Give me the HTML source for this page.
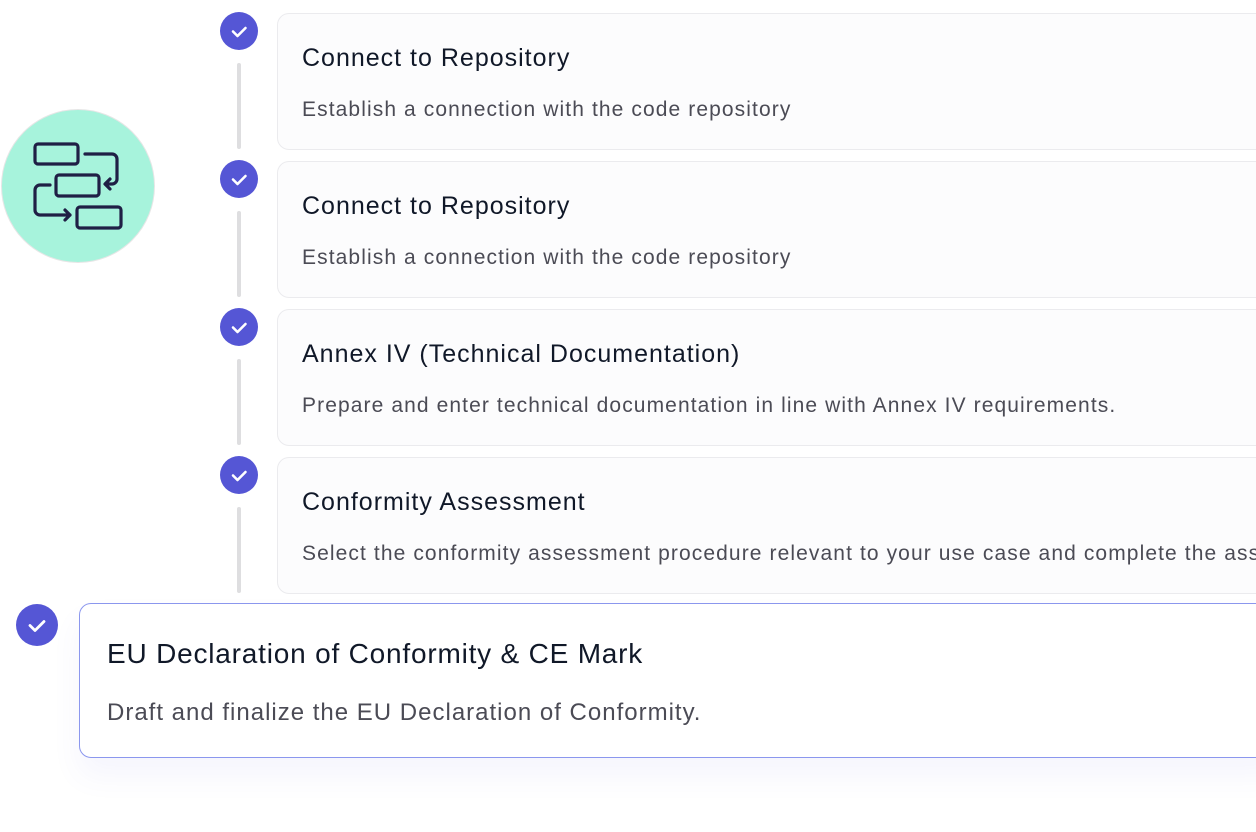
<!DOCTYPE html>
<html><head><style>
html,body{margin:0;width:1256px;height:832px;overflow:hidden;background:#fff}
#wrap{position:relative;width:1256px;height:832px;overflow:hidden;font-family:"Liberation Sans",sans-serif}
.card{position:absolute;left:277px;width:1000px;height:135px;border:1.5px solid #ebebee;border-radius:12px;background:#fcfcfd;overflow:hidden}
.card h3{position:absolute;left:24px;top:30px;margin:0;font-size:25px;letter-spacing:1px;font-weight:normal;color:#101828;white-space:nowrap}
.card p{position:absolute;left:24px;top:84px;margin:0;font-size:21px;letter-spacing:1.1px;color:#4b4b55;white-space:nowrap}
.dot{position:absolute;width:38px;height:38px;border-radius:50%;background:#5556d5}
.dot svg{position:absolute;left:0;top:0}
.line{position:absolute;left:237px;width:4px;background:#dedee0;border-radius:2px}
</style></head><body><div id="wrap">
<div style="position:absolute;left:1px;top:109px;width:152px;height:152px;border-radius:50%;background:#a7f3dc;border:1.5px solid #e6e6e6"></div>
<svg style="position:absolute;left:0;top:108px" width="160" height="160" fill="none" stroke="#1f1f45" stroke-width="3.2" stroke-linecap="round" stroke-linejoin="round">
<rect x="35" y="36" width="43" height="20" rx="3"/>
<rect x="56" y="67" width="43" height="21" rx="3"/>
<rect x="77" y="99" width="44" height="21" rx="3"/>
<path d="M85 46h27a5 5 0 0 1 5 5v20a5 5 0 0 1-5 5h-6M110 71l-5 5 5 5"/>
<path d="M50 77h-10a5 5 0 0 0-5 5v20a5 5 0 0 0 5 5h30M65 102l5 5-5 5"/>
</svg>
<div class="line" style="top:63px;height:86px"></div>
<div class="line" style="top:211px;height:86px"></div>
<div class="line" style="top:359px;height:86px"></div>
<div class="line" style="top:507px;height:86px"></div>
<div class="dot" style="left:220px;top:12px"><svg width="38" height="38"><path d="M13 19.5l4.5 4.5 8-8" stroke="#fff" stroke-width="2.6" fill="none" stroke-linecap="round" stroke-linejoin="round"/></svg></div>
<div class="dot" style="left:220px;top:160px"><svg width="38" height="38"><path d="M13 19.5l4.5 4.5 8-8" stroke="#fff" stroke-width="2.6" fill="none" stroke-linecap="round" stroke-linejoin="round"/></svg></div>
<div class="dot" style="left:220px;top:308px"><svg width="38" height="38"><path d="M13 19.5l4.5 4.5 8-8" stroke="#fff" stroke-width="2.6" fill="none" stroke-linecap="round" stroke-linejoin="round"/></svg></div>
<div class="dot" style="left:220px;top:456px"><svg width="38" height="38"><path d="M13 19.5l4.5 4.5 8-8" stroke="#fff" stroke-width="2.6" fill="none" stroke-linecap="round" stroke-linejoin="round"/></svg></div>
<div class="card" style="top:13px"><h3>Connect to Repository</h3><p>Establish a connection with the code repository</p></div>
<div class="card" style="top:161px"><h3>Connect to Repository</h3><p>Establish a connection with the code repository</p></div>
<div class="card" style="top:309px"><h3>Annex IV (Technical Documentation)</h3><p>Prepare and enter technical documentation in line with Annex IV requirements.</p></div>
<div class="card" style="top:457px"><h3>Conformity Assessment</h3><p>Select the conformity assessment procedure relevant to your use case and complete the ass</p></div>
<div style="position:absolute;left:79px;top:603px;width:1200px;height:153px;border:1.5px solid #8b97ee;border-radius:12px;background:#fff;box-shadow:0 18px 30px rgba(90,90,220,0.06)">
<div style="position:absolute;left:27px;top:34px;font-size:28px;letter-spacing:0.8px;color:#101828;white-space:nowrap">EU Declaration of Conformity &amp; CE Mark</div>
<div style="position:absolute;left:27px;top:95px;font-size:24px;letter-spacing:1px;color:#4b4b55;white-space:nowrap">Draft and finalize the EU Declaration of Conformity.</div>
</div>
<div class="dot" style="left:16px;top:604px;width:42px;height:42px"><svg width="42" height="42"><path d="M14 21.5l5 5 9-9" stroke="#fff" stroke-width="2.8" fill="none" stroke-linecap="round" stroke-linejoin="round"/></svg></div>
</div></body></html>
